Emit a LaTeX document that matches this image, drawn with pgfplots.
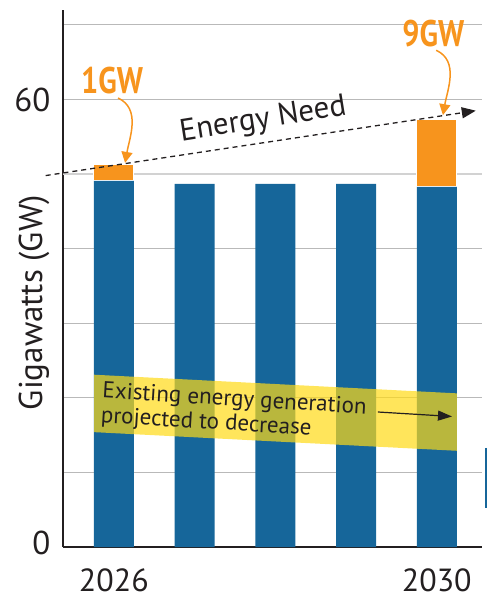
\documentclass[border=0pt]{standalone}
\usepackage{fontspec}
\setmainfont{PT Sans}
\usepackage{pgfplots}
\pgfplotsset{compat=1.18}
\usetikzlibrary{arrows.meta}
\definecolor{barblue}{RGB}{22,102,154}
\definecolor{barorange}{RGB}{247,148,29}
\definecolor{bandyellow}{RGB}{255,218,22}
\definecolor{ink}{RGB}{35,31,32}
\definecolor{gridgray}{RGB}{185,185,185}

\begin{document}
\begin{tikzpicture}[x=1pt,y=1pt]
\useasboundingbox (0,0) rectangle (487,599);
\begin{axis}[
    at={(63pt,52pt)}, anchor=south west,
    scale only axis, width=419pt, height=537pt,
    xmin=-0.63, xmax=4.56, ymin=0, ymax=72,
    ybar stacked, bar width=0.495,
    axis x line*=bottom, axis y line*=left,
    axis line style={-, line width=2.5pt, ink},
    xtick={0,4}, xticklabels={2026,2030},
    ytick={0,10,20,30,40,60,70}, yticklabels={{\raisebox{9pt}{0}},,,,,60,},
    extra y ticks={50}, extra y tick labels={},
    extra y tick style={grid style={gray!35, line width=2pt}},
    ymajorgrids, grid style={gridgray, line width=0.9pt},
    major tick length=0,
    /pgf/number format/assume math mode=true,
    xticklabel style={font=\fontsize{32}{32}\selectfont, text=ink, yshift=-18pt},
    yticklabel style={font=\fontsize{33}{33}\selectfont, text=ink, xshift=-9pt},
    ylabel={Gigawatts (GW)},
    ylabel style={at={(axis description cs:-0.069,0.455)}, anchor=center,
        font=\fontsize{33}{33}\selectfont, text=ink},
    clip=false,
]

% existing generation
\addplot[fill=barblue, draw=none]
    coordinates {(0,49.1) (1,48.7) (2,48.7) (3,48.7) (4,48.3)};
% additional need
\addplot[fill=barorange, draw=white, line width=0.8pt]
    coordinates {(0,2.2) (1,0) (2,0) (3,0) (4,9.0)};

% anchor points for the annotations, drawn on top after the axis
\coordinate (needA) at (axis cs:-0.845,49.8);
\coordinate (needB) at (axis cs:4.483,58.5);
\coordinate (needT) at (axis cs:1.848,57.2);
\coordinate (bandTL) at (axis cs:-0.245,23.1);
\coordinate (bandTR) at (axis cs:4.250,20.6);
\coordinate (bandBR) at (axis cs:4.250,12.9);
\coordinate (bandBL) at (axis cs:-0.245,15.4);
\coordinate (bandT) at (axis cs:-0.134,22.2);
\coordinate (decA) at (axis cs:3.271,18.1);
\coordinate (decB) at (axis cs:4.188,17.5);
\coordinate (oneT) at (axis cs:-0.022,62.5);
\coordinate (nineT) at (axis cs:3.956,68.9);
\coordinate (oneA) at (axis cs:0.052,60.2);
\coordinate (oneB) at (axis cs:0.139,51.5);
\coordinate (nineA) at (axis cs:3.993,66.6);
\coordinate (nineB) at (axis cs:4.076,57.9);
\coordinate (edgeA) at (axis cs:4.609,13.3);
\coordinate (edgeB) at (axis cs:4.609,5.2);
\end{axis}

% energy need trend
\draw[ink, line width=1.3pt, dash pattern=on 5pt off 4pt,
    -{Triangle[length=14pt,width=11pt]}] (needA) -- (needB);
\node[rotate=9, font=\fontsize{31}{31}\selectfont, text=ink] at (needT) {Energy Need};

% decreasing band
\fill[bandyellow, opacity=0.7] (bandTL) -- (bandTR) -- (bandBR) -- (bandBL) -- cycle;
\node[anchor=north west, inner sep=0pt, rotate=-3.5, align=left,
    font=\fontsize{23}{24.5}\selectfont, text=ink]
    at (bandT) {Existing energy generation\\projected to decrease};
\draw[ink, line width=1.2pt, -{Triangle[length=14pt,width=10pt]}] (decA) -- (decB);

% gap callouts
\node[text=barorange, font=\fontsize{37}{37}\selectfont\bfseries, xscale=0.82] at (oneT) {1GW};
\node[text=barorange, font=\fontsize{37}{37}\selectfont\bfseries, xscale=0.82] at (nineT) {9GW};
\draw[barorange, line width=1.5pt, -{Triangle[length=11pt,width=11pt]}]
    (oneA) to[out=-25,in=80] (oneB);
\draw[barorange, line width=1.5pt, -{Triangle[length=11pt,width=11pt]}]
    (nineA) to[out=-25,in=80] (nineB);

\draw[barblue, line width=1.5pt] (edgeA) -- (edgeB);
\end{tikzpicture}
\end{document}
